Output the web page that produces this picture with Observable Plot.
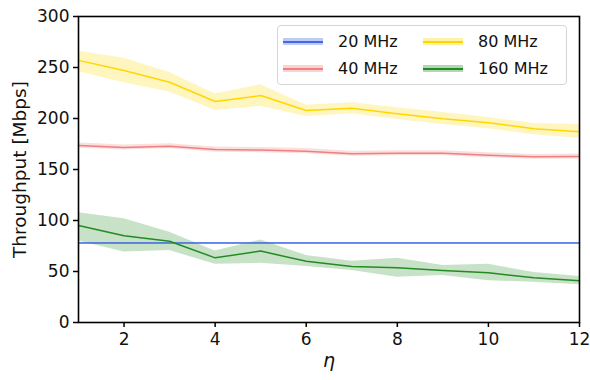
<!DOCTYPE html>
<html>
<head>
<meta charset="utf-8">
<script src="https://cdn.jsdelivr.net/npm/d3@7"></script>
<script src="https://cdn.jsdelivr.net/npm/@observablehq/plot@0.6"></script>
<style>
  html, body { margin: 0; padding: 0; background: #fff; }
  #wrap { position: relative; width: 590px; height: 380px; font-family: "DejaVu Sans", sans-serif; }
  #legend {
    position: absolute; left: 277px; top: 25px; width: 290px; height: 60px;
    box-sizing: border-box; border: 1px solid #d6d6d6; border-radius: 4px;
    background: rgba(255,255,255,0.85);
    display: grid; grid-template-columns: 140px 130px; grid-auto-rows: 27px;
    padding: 2px 0 0 5px; font-size: 16px; color: #111;
  }
  .item { display: flex; align-items: center; }
  .key { position: relative; width: 40px; height: 7px; margin-right: 15px; }
  .key .band { position: absolute; inset: 0; opacity: 0.35; }
  .key .ln { position: absolute; left: 0; right: 0; top: 2.5px; height: 2px; }
</style>
</head>
<body>
<div id="wrap"><div id="legend"></div></div>
<script>
// Throughput versus eta for four channel widths (mean line with spread band)
const eta = [1, 2, 3, 4, 5, 6, 7, 8, 9, 10, 11, 12];

const mhz20   = [78, 78, 78, 78, 78, 78, 78, 78, 78, 78, 78, 78];
const mhz20Lo = [77.5, 77.5, 77.5, 77.5, 77.5, 77.5, 77.5, 77.5, 77.5, 77.5, 77.5, 77.5];
const mhz20Hi = [78.5, 78.5, 78.5, 78.5, 78.5, 78.5, 78.5, 78.5, 78.5, 78.5, 78.5, 78.5];

const mhz40   = [173.5, 171.6, 172.9, 169.6, 169.0, 168.0, 165.4, 166.0, 166.0, 164.0, 162.4, 162.7];
const mhz40Lo = [171.0, 169.0, 170.5, 167.0, 166.5, 165.5, 163.0, 163.5, 163.5, 161.5, 160.0, 160.2];
const mhz40Hi = [176.0, 174.0, 175.3, 172.0, 171.5, 170.5, 167.8, 168.5, 168.5, 166.5, 164.8, 165.2];

const mhz80   = [257.0, 247.0, 235.6, 216.7, 222.5, 207.8, 210.0, 204.6, 199.7, 195.8, 190.0, 187.0];
const mhz80Lo = [246.0, 235.0, 226.0, 208.0, 212.0, 202.0, 204.6, 199.0, 194.0, 190.0, 184.0, 180.6];
const mhz80Hi = [266.0, 259.0, 245.0, 224.0, 233.0, 213.0, 215.4, 210.5, 206.0, 201.0, 195.0, 194.0];

const mhz160   = [95.0, 85.0, 79.7, 63.4, 70.0, 60.0, 55.0, 53.6, 51.0, 48.7, 43.8, 41.0];
const mhz160Lo = [80.0, 69.0, 70.6, 57.0, 58.0, 55.0, 51.0, 44.4, 46.0, 41.0, 39.5, 37.0];
const mhz160Hi = [107.5, 101.6, 88.5, 70.0, 81.0, 65.7, 60.0, 63.0, 56.0, 57.0, 49.0, 45.0];

const seriesNames = ["20 MHz", "40 MHz", "80 MHz", "160 MHz"];
const seriesColors = ["#4169e1", "#f08080", "#ffd700", "#228b22"];
const xTicks = [2, 4, 6, 8, 10, 12];
const yTicks = [0, 50, 100, 150, 200, 250, 300];

const series = [
  [mhz20, mhz20Lo, mhz20Hi],
  [mhz40, mhz40Lo, mhz40Hi],
  [mhz80, mhz80Lo, mhz80Hi],
  [mhz160, mhz160Lo, mhz160Hi]
];
const rows = series.flatMap(([m, lo, hi], s) =>
  eta.map((e, i) => ({ eta: e, name: seriesNames[s], mean: m[i], lo: lo[i], hi: hi[i] }))
);

const colorScale = { domain: seriesNames, range: seriesColors };

const chart = Plot.plot({
  width: 590,
  height: 380,
  marginLeft: 78,
  marginRight: 11,
  marginTop: 16,
  marginBottom: 58,
  style: { fontFamily: "DejaVu Sans, sans-serif", fontSize: "17px", color: "#000", background: "transparent" },
  x: { domain: [1, 12], ticks: xTicks },
  y: { domain: [0, 300], ticks: yTicks },
  color: colorScale,
  marks: [
    Plot.areaY(rows, { x: "eta", y1: "lo", y2: "hi", z: "name", fill: "name", fillOpacity: 0.25 }),
    Plot.line(rows, { x: "eta", y: "mean", z: "name", stroke: "name", strokeWidth: 1.5 }),
    Plot.frame({ stroke: "#000", strokeWidth: 1.6 }),
    Plot.axisX({ ticks: xTicks, tickSize: 5, tickPadding: 5, label: null, fontSize: 17, fill: "#111", strokeWidth: 1.5 }),
    Plot.axisY({ ticks: yTicks, tickSize: 5, tickPadding: 4, label: null, fontSize: 17, fill: "#111", strokeWidth: 1.5 }),
    Plot.text(["η"], { frameAnchor: "bottom", dy: 44, fontSize: 19, fontStyle: "italic", fill: "#111" }),
    Plot.text(["Throughput [Mbps]"], { frameAnchor: "left", textAnchor: "middle", dx: -58, rotate: -90, fontSize: 18.5, fill: "#111" })
  ]
});
document.getElementById("wrap").prepend(chart);

// legend: two columns, column-major order
const legend = document.getElementById("legend");
const order = [0, 2, 1, 3];
for (const s of order) {
  const item = document.createElement("div");
  item.className = "item";
  item.innerHTML = `<span class="key"><span class="band" style="background:${seriesColors[s]}"></span>` +
    `<span class="ln" style="background:${seriesColors[s]}"></span></span><span>${seriesNames[s]}</span>`;
  legend.appendChild(item);
}
</script>
</body>
</html>
